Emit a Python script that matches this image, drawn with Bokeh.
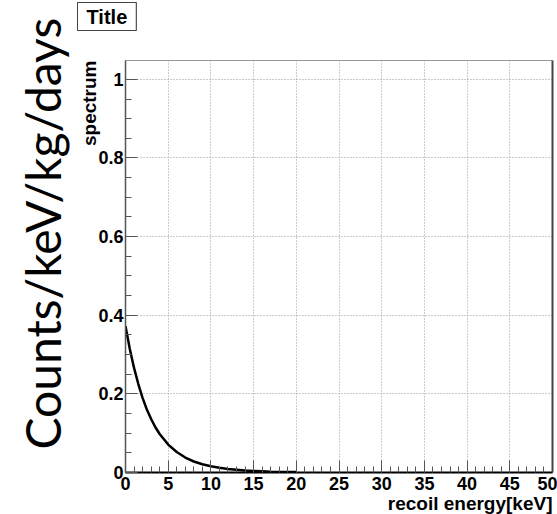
from bokeh.plotting import figure
from bokeh.models import Range1d, FixedTicker, Title, LinearAxis
from bokeh.embed import file_html
from bokeh.resources import INLINE

# data
energy_kev = [0, 0.5, 1, 1.5, 2, 2.5, 3, 3.5, 4, 5, 6, 7, 8, 9, 10, 11, 12, 13, 14, 15, 16, 17, 18, 19, 20]
spectrum = [0.372, 0.315, 0.266, 0.225, 0.19, 0.16, 0.136, 0.115, 0.098, 0.071, 0.052, 0.038,
            0.028, 0.021, 0.016, 0.012, 0.009, 0.007, 0.005, 0.004, 0.003, 0.002, 0.0015, 0.001, 0.001]

x_ticks = [0, 5, 10, 15, 20, 25, 30, 35, 40, 45, 50]
x_minor = list(range(0, 51))
y_ticks = [0, 0.2, 0.4, 0.6, 0.8, 1.0]
y_labels = ["0", "0.2", "0.4", "0.6", "0.8", "1"]
y_minor = [i * 0.05 for i in range(0, 21)]

p = figure(width=557, height=514, output_backend="svg", toolbar_location=None,
           x_range=Range1d(0, 50), y_range=Range1d(0, 1.048),
           min_border_left=125, min_border_right=5, min_border_top=58, min_border_bottom=42)
p.background_fill_color = "white"
p.border_fill_color = "white"
p.outline_line_color = "#999999"
p.outline_line_width = 1

# curve
p.line(energy_kev, spectrum, line_color="black", line_width=2.5)

# axes
xa = p.xaxis[0]
xa.ticker = FixedTicker(ticks=x_ticks, minor_ticks=x_minor)
ya = p.yaxis[0]
ya.ticker = FixedTicker(ticks=y_ticks, minor_ticks=y_minor)
ya.major_label_overrides = {t: l for t, l in zip(y_ticks, y_labels)}

for ax in (xa, ya):
    ax.major_tick_in = 12
    ax.major_tick_out = 0
    ax.minor_tick_in = 6
    ax.minor_tick_out = 0
    ax.major_tick_line_color = "#555555"
    ax.minor_tick_line_color = "#555555"
    ax.major_label_text_font = "Liberation Sans"
    ax.major_label_text_font_style = "bold"
    ax.major_label_text_font_size = "18px"
    ax.major_label_text_color = "black"

xa.axis_line_color = "black"
xa.axis_line_width = 2
xa.major_label_standoff = 4
ya.axis_line_color = "#555555"
ya.axis_line_width = 1.5
ya.major_label_standoff = 2

ra = LinearAxis(ticker=FixedTicker(ticks=[]), axis_line_color="#444444", axis_line_width=2,
                major_tick_in=0, major_tick_out=0, minor_tick_in=0, minor_tick_out=0)
p.add_layout(ra, "right")

# grid
for g in (p.xgrid[0], p.ygrid[0]):
    g.grid_line_color = "#999999"
    g.grid_line_dash = "1 2"
    g.grid_line_width = 1
p.xgrid[0].ticker = FixedTicker(ticks=x_ticks)
p.ygrid[0].ticker = FixedTicker(ticks=y_ticks)

# texts
yt = Title(text="spectrum", align="right", standoff=-8,
           text_font="Liberation Sans", text_font_style="bold", text_font_size="19px",
           text_color="black")
p.add_layout(yt, "left")

big = Title(text="Counts/keV/kg/days", align="left", offset=23, standoff=20,
            text_font="Lato", text_font_size="48px", text_font_style="normal", text_color="black")
p.add_layout(big, "left")

xt = Title(text="recoil energy[keV]", align="right", standoff=-3,
           text_font="Liberation Sans", text_font_style="bold", text_font_size="19px",
           text_color="black")
p.add_layout(xt, "below")

tt = p.title
tt.text = "Title"
tt.align = "left"
tt.offset = -48
tt.standoff = 0
tt.text_font = "Liberation Sans"
tt.text_font_style = "bold"
tt.text_font_size = "20px"
tt.text_color = "black"
try:
    tt.border_line_color = "#444444"
    tt.border_line_width = 1
    tt.background_fill_color = "white"
except Exception:
    pass
try:
    tt.padding = dict(left=9, right=9, top=3, bottom=3)
except Exception:
    try:
        tt.padding = 4
    except Exception:
        pass

# empty strip between the title box and the frame
spacer = LinearAxis(ticker=FixedTicker(ticks=[]), axis_line_color=None,
                    major_tick_in=0, major_tick_out=15, minor_tick_in=0, minor_tick_out=0,
                    major_label_standoff=0, axis_label_standoff=0)
p.add_layout(spacer, "above")
p.above = [spacer, tt]

open("out.html", "w").write(file_html(p, INLINE))
